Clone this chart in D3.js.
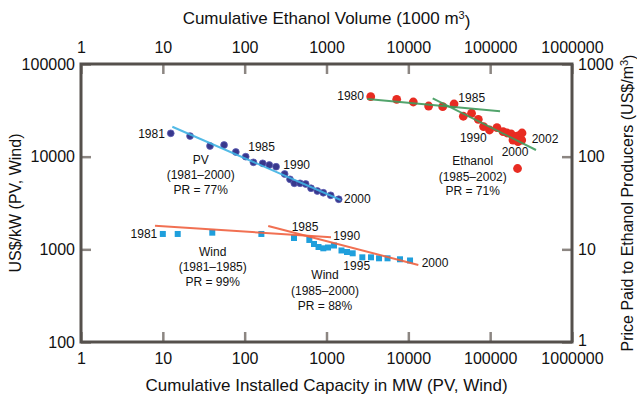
<!DOCTYPE html>
<html>
<head>
<meta charset="utf-8">
<script src="https://cdn.jsdelivr.net/npm/d3@7"></script>
<style>
  html, body { margin: 0; padding: 0; background: #fff; }
  svg { display: block; font-family: "Liberation Sans", Arial, Helvetica, sans-serif; }
</style>
</head>
<body>
<svg id="chart" width="637" height="399"></svg>
<script>
// ---------------- DATA ----------------
// PV (1981–2000): cumulative installed capacity (MW) and cost (US$/kW)
const pvYears    = d3.range(1981, 2001);
const pvCapacity = [12.5, 21.5, 37.7, 56, 78, 103, 128, 166, 200, 242, 308, 358, 404, 475, 557, 647, 772, 914, 1125, 1410];
const pvCost     = [17870, 16700, 13030, 13360, 11230, 10000, 8690, 8480, 8130, 7790, 6500, 5700, 5160, 5160, 5070, 4560, 4260, 4080, 3830, 3470];

// Wind (1981–2000): cumulative installed capacity (MW) and cost (US$/kW)
const windYears    = d3.range(1981, 2001);
const windCapacity = [10, 15.2, 40.2, 160, 401, 617, 703, 799, 914, 1043, 1236, 1525, 1781, 2090, 2740, 3500, 4385, 5570, 7910, 10490];
const windCost     = [1465, 1465, 1513, 1465, 1325, 1262, 1142, 1060, 1026, 1046, 1100, 972, 936, 906, 820, 820, 800, 800, 781, 758];

// Ethanol (1980–2002): cumulative volume (1000 m3) and price paid to producers (US$/m3)
const ethanolYears  = d3.range(1980, 2003);
const ethanolVolume = [3470, 7210, 11500, 17700, 26300, 36200, 47000, 59200, 71600, 83000, 98200, 121000, 144000, 161000, 180000, 190000, 196000, 213000, 219000, 216000, 232000, 243000, 245000];
const ethanolPrice  = [444, 416, 389, 352, 346, 370, 273, 294, 253, 211, 194, 206, 186, 180, 176, 151, 159, 167, 145, 74.5, 171, 151, 180];

// Experience-curve fit lines (start / end)
const pvFitX      = [13.06, 1492];   const pvFitY      = [21050, 3406];
const wind1FitX   = [8.02, 1135];    const wind1FitY   = [1799, 1349];
const wind2FitX   = [194, 13250];    const wind2FitY   = [1786, 678];
const eth1FitX    = [3155, 132000];  const eth1FitY    = [419, 309];
const eth2FitX    = [19860, 363000]; const eth2FitY    = [426, 118];

// Axis ticks
const xTicks      = [1, 10, 100, 1000, 10000, 100000, 1000000];
const yLeftTicks  = [100, 1000, 10000, 100000];
const yRightTicks = [1, 10, 100, 1000];

// Annotations (anchored in data units)
const pvLabels = [
  {t: "1981", x: 10.6, y: 17870, a: "end"},
  {t: "1985", x: 161, y: 12800, a: "middle"},
  {t: "1990", x: 432, y: 8270, a: "middle"},
  {t: "2000", x: 1637, y: 3470, a: "start"},
  {t: "PV", x: 29, y: 9210, a: "middle"},
  {t: "(1981–2000)", x: 29, y: 6340, a: "middle"},
  {t: "PR = 77%", x: 29, y: 4370, a: "middle"}
];
const windLabels = [
  {t: "1981", x: 8.56, y: 1465, a: "end"},
  {t: "1985", x: 546, y: 1754, a: "middle"},
  {t: "1990", x: 1766, y: 1393, a: "middle"},
  {t: "1995", x: 2340, y: 661, a: "middle"},
  {t: "2000", x: 21200, y: 718, a: "middle"},
  {t: "Wind", x: 40.7, y: 944, a: "middle"},
  {t: "(1981–1985)", x: 40.7, y: 640, a: "middle"},
  {t: "PR = 99%", x: 40.7, y: 448, a: "middle"},
  {t: "Wind", x: 959, y: 529, a: "middle"},
  {t: "(1985–2000)", x: 959, y: 355, a: "middle"},
  {t: "PR = 88%", x: 959, y: 245, a: "middle"}
];
const ethanolLabels = [
  {t: "1980", x: 2870, y: 452, a: "end"},
  {t: "1985", x: 59500, y: 433, a: "middle"},
  {t: "1990", x: 62200, y: 160, a: "middle"},
  {t: "2000", x: 201000, y: 113, a: "middle"},
  {t: "2002", x: 468000, y: 154, a: "middle"},
  {t: "Ethanol", x: 61200, y: 90.5, a: "middle"},
  {t: "(1985–2002)", x: 61200, y: 60.8, a: "middle"},
  {t: "PR = 71%", x: 61200, y: 42.9, a: "middle"}
];

// ---------------- LAYOUT ----------------
const svg = d3.select("#chart");
const L = 81, R = 572, T = 64, B = 342;

const x  = d3.scaleLog().domain([1, 1e6]).range([L, R]);     // MW (bottom)
const xT = d3.scaleLog().domain([1, 1e6]).range([L, R]);     // 1000 m3 (top)
const y  = d3.scaleLog().domain([100, 1e5]).range([B, T]);   // US$/kW (left)
const yR = d3.scaleLog().domain([1, 1000]).range([B, T]);    // US$/m3 (right)

const fmt = d3.format("d");
const tickColor = "#8c8682", frameColor = "#55504c";

function styleAxis(g) {
  g.select(".domain").remove();
  g.selectAll(".tick line").attr("stroke", tickColor).attr("stroke-width", 2.5);
  g.selectAll(".tick text").attr("font-size", 16).attr("fill", "#111")
    .attr("font-family", '"Liberation Sans", Arial, Helvetica, sans-serif');
}

svg.append("g").attr("transform", `translate(0,${B})`)
  .call(d3.axisBottom(x).tickValues(xTicks).tickFormat(fmt).tickSizeInner(-10).tickSizeOuter(0).tickPadding(11))
  .call(styleAxis);
svg.append("g").attr("transform", `translate(0,${T})`)
  .call(d3.axisTop(xT).tickValues(xTicks).tickFormat(fmt).tickSizeInner(-10).tickSizeOuter(0).tickPadding(11))
  .call(styleAxis);
svg.append("g").attr("transform", `translate(${L},0)`)
  .call(d3.axisLeft(y).tickValues(yLeftTicks).tickFormat(fmt).tickSizeInner(-10).tickSizeOuter(0).tickPadding(6))
  .call(styleAxis);
svg.append("g").attr("transform", `translate(${R},0)`)
  .call(d3.axisRight(yR).tickValues(yRightTicks).tickFormat(fmt).tickSizeInner(-10).tickSizeOuter(0).tickPadding(6))
  .call(styleAxis)
  .call(g => g.selectAll(".tick text").filter(d => d === 1).attr("dy", "0.2em"));

// ---------------- MARKS ----------------
// PV points
svg.append("g").selectAll("circle").data(pvCapacity).join("circle")
  .attr("cx", d => x(d)).attr("cy", (d, i) => y(pvCost[i]))
  .attr("r", 3.4).attr("fill", "#38388c").attr("stroke", "#5c5cb4").attr("stroke-width", 0.8);

// Wind points
svg.append("g").selectAll("path").data(windCapacity).join("path")
  .attr("transform", (d, i) => `translate(${x(d)},${y(windCost[i])})`)
  .attr("d", d3.symbol(d3.symbolSquare, 36))
  .attr("fill", "#1f9fdc");

// Ethanol points
svg.append("g").selectAll("circle").data(ethanolVolume).join("circle")
  .attr("cx", d => xT(d)).attr("cy", (d, i) => yR(ethanolPrice[i]))
  .attr("r", 4.4).attr("fill", "#e82c22");

// Fit lines
function fitLine(xs, ys, sx, sy, color) {
  svg.append("path")
    .datum(xs.map((v, i) => [v, ys[i]]))
    .attr("d", d3.line().x(d => sx(d[0])).y(d => sy(d[1])))
    .attr("fill", "none").attr("stroke", color).attr("stroke-width", 2).attr("stroke-opacity", 0.9);
}
fitLine(pvFitX, pvFitY, x, y, "#3fb3e3");
fitLine(wind1FitX, wind1FitY, x, y, "#f0613f");
fitLine(wind2FitX, wind2FitY, x, y, "#f0613f");
fitLine(eth1FitX, eth1FitY, xT, yR, "#3f9a5c");
fitLine(eth2FitX, eth2FitY, xT, yR, "#3f9a5c");

// Frame
svg.append("rect").attr("x", L).attr("y", T).attr("width", R - L).attr("height", B - T)
  .attr("fill", "none").attr("stroke", frameColor).attr("stroke-width", 3);

// Annotations
function labels(arr, sx, sy) {
  svg.append("g").selectAll("text").data(arr).join("text")
    .attr("x", d => sx(d.x)).attr("y", d => sy(d.y)).attr("dy", "0.35em")
    .attr("text-anchor", d => d.a).attr("font-size", 12).attr("fill", "#111")
    .text(d => d.t);
}
labels(pvLabels, x, y);
labels(windLabels, x, y);
labels(ethanolLabels, xT, yR);

// Axis titles
svg.append("text").attr("x", (L + R) / 2).attr("y", 18).attr("dy", "0.35em")
  .attr("text-anchor", "middle").attr("font-size", 17).attr("fill", "#111")
  .call(t => {
    t.append("tspan").text("Cumulative Ethanol Volume (1000 m");
    t.append("tspan").attr("dy", "-0.45em").attr("font-size", 11).text("3");
    t.append("tspan").attr("dy", "0.45em").text(")");
  });
svg.append("text").attr("x", (L + R) / 2).attr("y", 385).attr("dy", "0.35em")
  .attr("text-anchor", "middle").attr("font-size", 17).attr("fill", "#111")
  .text("Cumulative Installed Capacity in MW (PV, Wind)");
svg.append("text").attr("transform", `translate(15,${(T + B) / 2}) rotate(-90)`).attr("dy", "0.35em")
  .attr("text-anchor", "middle").attr("font-size", 16).attr("fill", "#111")
  .text("US$/kW (PV, Wind)");
svg.append("text").attr("transform", `translate(627,${(T + B) / 2}) rotate(-90)`).attr("dy", "0.35em")
  .attr("text-anchor", "middle").attr("font-size", 16).attr("fill", "#111")
  .call(t => {
    t.append("tspan").text("Price Paid to Ethanol Producers (US$/m");
    t.append("tspan").attr("dy", "-0.45em").attr("font-size", 11).text("3");
    t.append("tspan").attr("dy", "0.45em").text(")");
  });
</script>
</body>
</html>
